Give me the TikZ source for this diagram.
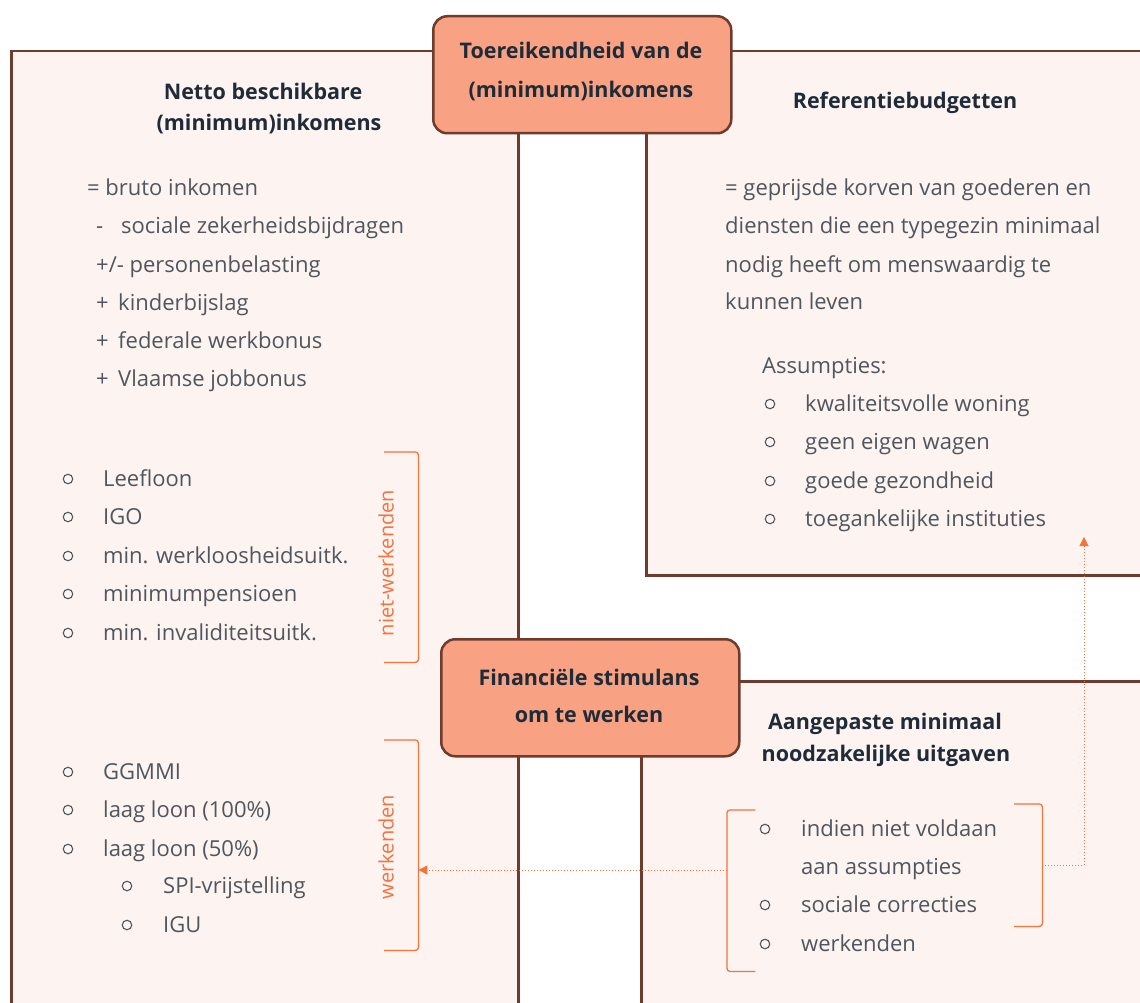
\documentclass[tikz,border=0pt]{standalone}
\usepackage{fontspec}
\setmainfont{Open Sans}
\usetikzlibrary{arrows.meta}
\definecolor{brownc}{HTML}{6E3B2C}
\definecolor{panelfill}{HTML}{FDF3F1}
\definecolor{hubfill}{HTML}{F8A183}
\definecolor{orangec}{HTML}{F4733D}
\definecolor{greyc}{HTML}{50565E}
\definecolor{navyc}{HTML}{1E2B38}
\tikzset{
  panel/.style={draw=brownc, line width=2.5pt, fill=panelfill, inner sep=0, anchor=north west},
  hub/.style={draw=brownc, line width=2.5pt, fill=hubfill, rounded corners=14pt, inner sep=0, anchor=north west},
  txt/.style={text=greyc, anchor=mid west, inner sep=0, yshift=-4pt, font=\fontsize{22}{26}\selectfont},
  ttl/.style={text=navyc, anchor=mid, inner sep=0, yshift=-4pt, font=\fontsize{21.5}{26}\selectfont\bfseries},
  bul/.style={draw=greyc, circle, line width=1.1pt, minimum size=9.5pt, inner sep=0},
  brk/.style={draw=orangec, line width=1.3pt, rounded corners=3pt},
  brkbox/.style={inner sep=0, anchor=north west},
  side/.style={text=orangec, rotate=90, anchor=mid, inner sep=0, font=\fontsize{20}{24}\selectfont},
  conn/.style={draw=orangec, dotted, line width=1pt, -{Triangle[length=9pt,width=9pt]}}
}
\begin{document}
\begin{tikzpicture}[x=1pt,y=-1pt]
\useasboundingbox (0,0) rectangle (1140,1003);
\clip (0,0) rectangle (1140,1003);
% panels
\node[panel, minimum width=507pt, minimum height=970pt] (lbox) at (10,50) {};
\node[panel, minimum width=510pt, minimum height=524pt] (rtbox) at (645,50) {};
\node[panel, minimum width=515pt, minimum height=340pt] (rbbox) at (640,680) {};
% hubs
\node[hub, minimum width=298pt, minimum height=117pt] (hubtop) at (432,15) {};
\node[hub, minimum width=298pt, minimum height=117pt] (hubbot) at (440,638) {};
\node[ttl] (ht1) at (581,52) {Toereikendheid van de};
\node[ttl] (ht2) at (581,91) {(minimum)inkomens};
\node[ttl] (hb1) at (589,679) {Financiële stimulans};
\node[ttl] (hb2) at (589,716) {om te werken};
% left panel
\node[ttl] (lt1) at (263,93) {Netto beschikbare};
\node[ttl] (lt2) at (269,124) {(minimum)inkomens};
\node[txt] (l1) at (87,189) {= bruto inkomen};
\node[txt] (l2a) at (96,227) {-};
\node[txt] (l2) at (121,227) {sociale zekerheidsbijdragen};
\node[txt] (l3) at (96,266) {+/- personenbelasting};
\node[txt] (l4a) at (96,304) {+};
\node[txt] (l4) at (118,304) {kinderbijslag};
\node[txt] (l5a) at (96,342) {+};
\node[txt] (l5) at (118,342) {federale werkbonus};
\node[txt] (l6a) at (96,380) {+};
\node[txt] (l6) at (118,380) {Vlaamse jobbonus};
\foreach \t/\y [count=\i] in {Leefloon/480, IGO/518, min. werkloosheidsuitk./557, minimumpensioen/595, min. invaliditeitsuitk./634}{
  \node[bul] (nb\i) at (68,\y-1) {};
  \node[txt] (nw\i) at (103,\y) {\t};
}
\foreach \t/\y [count=\i] in {GGMMI/773, laag loon (100\%)/811, laag loon (50\%)/850}{
  \node[bul] (wb\i) at (68,\y-1) {};
  \node[txt] (ww\i) at (103,\y) {\t};
}
\node[bul] (sb1) at (127,886) {};
\node[txt] (sw1) at (163,887) {SPI-vrijstelling};
\node[bul] (sb2) at (127,925) {};
\node[txt] (sw2) at (163,926) {IGU};
% brackets left
\node[brkbox, minimum width=34pt, minimum height=210pt] (nwbr) at (384,452) {};
\draw[brk] (nwbr.north west) -- (nwbr.north east) -- (nwbr.south east) -- (nwbr.south west);
\node[side] (nwlab) at (391,563) {niet-werkenden};
\node[brkbox, minimum width=34pt, minimum height=210pt] (wbr) at (384,740) {};
\draw[brk] (wbr.north west) -- (wbr.north east) -- (wbr.south east) -- (wbr.south west);
\node[side] (wlab) at (391,847) {werkenden};
% right top panel
\node[ttl] (rt1) at (905,102) {Referentiebudgetten};
\node[txt] (r1) at (725,189) {= geprijsde korven van goederen en};
\node[txt] (r2) at (725,227) {diensten die een typegezin minimaal};
\node[txt] (r3) at (725,266) {nodig heeft om menswaardig te};
\node[txt] (r4) at (725,303) {kunnen leven};
\node[txt] (r5) at (762,367) {Assumpties:};
\foreach \t/\y [count=\i] in {kwaliteitsvolle woning/405, geen eigen wagen/443, goede gezondheid/482, toegankelijke instituties/520}{
  \node[bul] (ab\i) at (770,\y-1) {};
  \node[txt] (aw\i) at (805,\y) {\t};
}
% right bottom panel
\node[ttl] (rb1) at (885,723) {Aangepaste minimaal};
\node[ttl] (rb2) at (886,755) {noodzakelijke uitgaven};
\node[bul] (cb1) at (765,829) {};
\node[txt] (cw1) at (801,830) {indien niet voldaan};
\node[txt] (cw1b) at (801,868) {aan assumpties};
\node[bul] (cb2) at (765,905) {};
\node[txt] (cw2) at (801,906) {sociale correcties};
\node[bul] (cb3) at (765,944) {};
\node[txt] (cw3) at (801,945) {werkenden};
\node[brkbox, minimum width=28pt, minimum height=161pt] (abr) at (727,810) {};
\draw[brk] (abr.north east) -- (abr.north west) -- (abr.south west) -- (abr.south east);
\node[brkbox, minimum width=28pt, minimum height=122pt] (rbr) at (1014,804) {};
\draw[brk] (rbr.north west) -- (rbr.north east) -- (rbr.south east) -- (rbr.south west);
\coordinate (tipR) at (1084,537);
% connectors
\draw[conn] (abr.west |- 0,870) -- (wbr.east |- 0,870);
\draw[conn] (rbr.east) -| (tipR);
\end{tikzpicture}
\end{document}
